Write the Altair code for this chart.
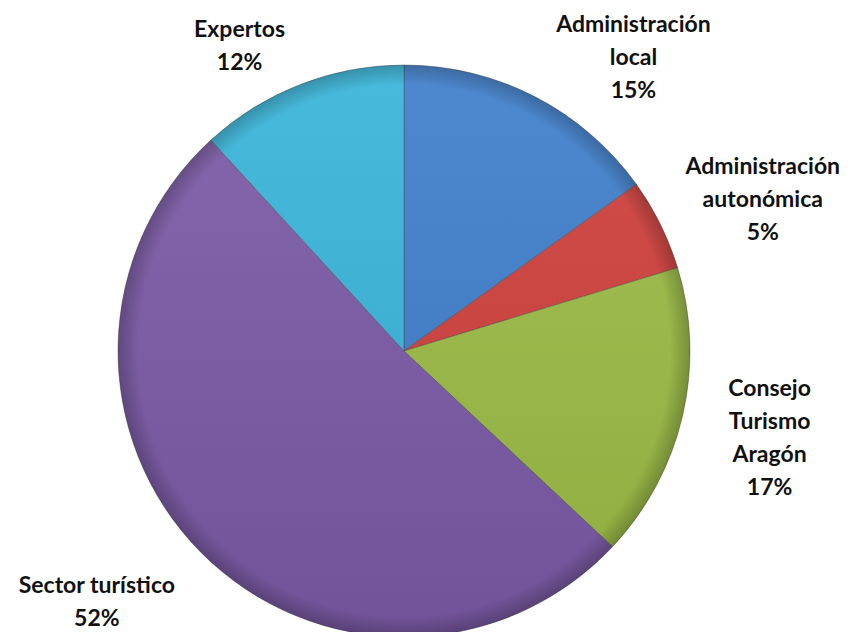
import altair as alt
import pandas as pd

categories = ["Administración local", "Administración autonómica",
              "Consejo Turismo Aragón", "Sector turístico", "Expertos"]
shares = [15.1, 5.2, 16.7, 51.2, 11.8]
pct_labels = ["15%", "5%", "17%", "52%", "12%"]
label_lines = [["Administración", "local"], ["Administración", "autonómica"],
               ["Consejo", "Turismo", "Aragón"], ["Sector turístico"], ["Expertos"]]
colors = ["#3F7FCC", "#CF403C", "#9BBB45", "#7B5AA6", "#38B4D9"]

# style: label offsets (dx, dy) relative to the slice mid-angle point
label_offsets = [(65, -6), (36, -25), (15, -44), (-51, -18), (-34, 15)]

df = pd.DataFrame({
    "cat": categories,
    "share": shares,
    "order": list(range(len(categories))),
    "label": [lines + [p] for lines, p in zip(label_lines, pct_labels)],
})

CX, CY, R = 396, 343, 286
theta_scale = alt.Scale(domain=[0, 100])

base = alt.Chart(df)

arcs = base.mark_arc(radius=R, stroke="#3a3a3a", strokeWidth=0.8, strokeOpacity=0.5).encode(
    theta=alt.Theta("share:Q", stack=True, scale=theta_scale),
    order=alt.Order("order:Q", sort="ascending"),
    color=alt.Color("cat:N", scale=alt.Scale(domain=categories, range=colors), legend=None),
    x=alt.value(CX), y=alt.value(CY),
)

rim = alt.Chart(alt.Data(values=[{"a": 1}])).mark_arc(
    radius=R, theta=0, theta2=6.2832,
    fill=alt.RadialGradient(
        gradient="radial", x1=0.5, y1=0.5, x2=0.5, y2=0.5, r1=0, r2=0.5,
        stops=[alt.GradientStop(color="rgba(0,0,0,0)", offset=0),
               alt.GradientStop(color="rgba(0,0,0,0)", offset=0.93),
               alt.GradientStop(color="rgba(0,0,0,0.22)", offset=1)]),
).encode(x=alt.value(CX), y=alt.value(CY))

shade = alt.Chart(alt.Data(values=[{"a": 1}])).mark_arc(
    radius=R, theta=0, theta2=6.2832,
    fill=alt.LinearGradient(
        gradient="linear", x1=0, y1=0, x2=0, y2=1,
        stops=[alt.GradientStop(color="rgba(255,255,255,0.08)", offset=0),
               alt.GradientStop(color="rgba(0,0,0,0.08)", offset=1)]),
).encode(x=alt.value(CX), y=alt.value(CY))

label_layers = []
for i, (dx, dy) in enumerate(label_offsets):
    t = base.transform_window(
        cum="sum(share)", sort=[alt.SortField("order")], frame=[None, 0]
    ).transform_calculate(
        mid="datum.cum - datum.share / 2"
    ).transform_filter(
        alt.datum.order == i
    ).mark_text(
        radius=360, dx=dx, dy=dy, font="Lato", fontSize=23, fontWeight="bold",
        color="#111111", lineHeight=33, align="center", baseline="middle",
    ).encode(
        theta=alt.Theta("mid:Q", scale=theta_scale, stack=False),
        text="label",
        x=alt.value(CX), y=alt.value(CY),
    )
    label_layers.append(t)

chart = alt.layer(arcs, shade, rim, *label_layers).properties(
    width=836, height=624, padding=0, autosize=alt.AutoSizeParams(type="none")
).configure_view(stroke=None)

chart.save("out.html", embed_options={"renderer": "svg", "actions": False})
